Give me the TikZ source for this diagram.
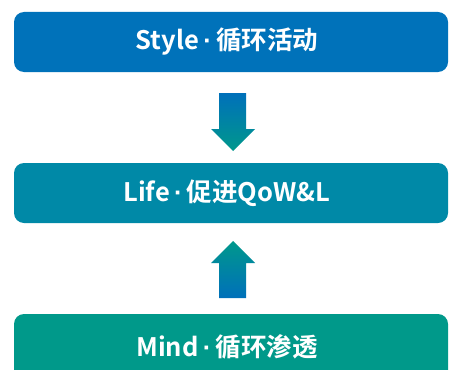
\documentclass[tikz,border=0pt]{standalone}
\usepackage{fontspec}
\setmainfont{Noto Sans CJK SC}[BoldFont={Noto Sans CJK SC Bold}]
\newfontfamily\dotfont{Liberation Sans}
\newcommand{\mdot}{{\dotfont\bfseries\,·\,}}
\usetikzlibrary{shadings}
\definecolor{cblue}{RGB}{0,114,186}
\definecolor{cteal}{RGB}{0,137,167}
\definecolor{cgreen}{RGB}{0,153,138}
\definecolor{agtop}{RGB}{0,112,186}
\definecolor{agbot}{RGB}{0,152,140}
\tikzset{
  bar/.style={rounded corners=10pt, draw=none},
  lbl/.style={text=white, font=\fontsize{25.5}{30}\selectfont\bfseries, inner sep=0pt},
}
\begin{document}
\begin{tikzpicture}[x=1pt,y=-1pt]
\clip (0,0) rectangle (449,369);
\fill[white] (0,0) rectangle (449,369);
% boxes
\fill[bar, cblue] (14,12) rectangle (448,72);
\node[lbl] (style) at (227,42) {Style\mdot 循环活动};
\fill[bar, cteal] (14,163) rectangle (448,223);
\node[lbl] (life) at (227,193) {Life\mdot 促进QoW\&L};
\fill[bar, cgreen] (14,314) rectangle (448,390);
\node[lbl] (mind) at (227,347) {Mind\mdot 循环渗透};
% down arrow
\shade[top color=agtop, bottom color=agbot]
  (219,93) -- (246,93) -- (246,129) -- (255,129) -- (233,151) -- (211,129) -- (219,129) -- cycle;
% up arrow
\shade[top color=agbot, bottom color=agtop]
  (233,241) -- (255,263) -- (246,263) -- (246,298) -- (219,298) -- (219,263) -- (211,263) -- cycle;
\end{tikzpicture}
\end{document}
